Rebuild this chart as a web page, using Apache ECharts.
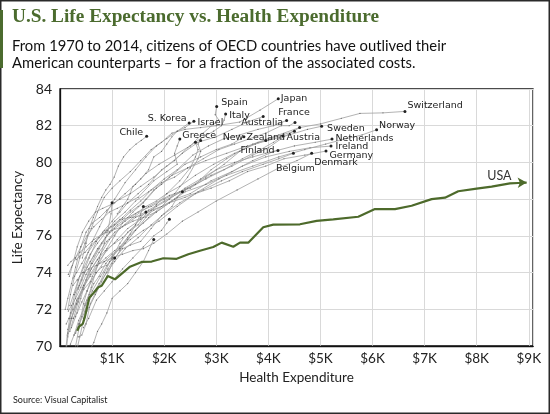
<!DOCTYPE html>
<html><head><meta charset="utf-8">
<script src="https://cdn.jsdelivr.net/npm/echarts@6/dist/echarts.min.js"></script>
<style>html,body{margin:0;padding:0;background:#fff}#c{width:550px;height:414px}</style>
</head><body><div id="c"></div>
<script>
// ---- data (health expenditure per capita in $, life expectancy in years) ----
const xTickValues = [1000,2000,3000,4000,5000,6000,7000,8000,9000];
const yTickValues = [70,72,74,76,78,80,82,84];

const usa = [[332,70.83],[365,71.05],[436,71.2],[480,71.6],[562,72.63],[639,72.87],[735,73.2],[800,73.28],[916,73.81],[1056,73.63],[1344,74.32],[1568,74.58],[1760,74.6],[1983,74.78],[2240,74.75],[2463,75.0],[2687,75.19],[2942,75.39],[3104,75.63],[3326,75.41],[3455,75.63],[3614,75.63],[3902,76.47],[4094,76.61],[4606,76.63],[4927,76.82],[5246,76.9],[5726,77.04],[6046,77.46],[6430,77.46],[6750,77.64],[7134,78.0],[7390,78.08],[7645,78.43],[7998,78.57],[8286,78.68],[8637,78.86],[8797,78.88],[8958,78.9]];

const chile = [[430,74.8],[500,75.6],[560,76.4],[640,77.0],[720,77.6],[800,78.1],[880,78.5],[960,78.8],[1040,79.2],[1120,79.8],[1220,80.3],[1340,80.7],[1460,81.0],[1560,81.2],[1664,81.42]];
const korea = [[60,68.0],[100,69.5],[140,70.6],[200,71.8],[280,72.8],[380,73.8],[500,74.8],[620,75.7],[760,76.5],[900,77.3],[1050,78.0],[1250,78.9],[1450,79.6],[1650,80.3],[1850,80.9],[2050,81.3],[2250,81.7],[2480,82.15]];
const israel = [[1100,77.2],[1200,77.6],[1300,78.0],[1400,78.7],[1550,79.1],[1700,79.6],[1800,80.3],[1950,80.6],[2050,81.0],[2150,81.4],[2250,81.7],[2400,81.9],[2570,82.25]];
const greece = [[160,73.9],[220,74.3],[300,74.8],[400,75.4],[520,76.0],[650,76.5],[800,76.9],[950,77.3],[1100,77.5],[1300,77.8],[1500,78.1],[1800,79.0],[2050,79.5],[2250,79.9],[2200,80.5],[2250,80.9],[2300,81.27]];
const spain = [[100,72.0],[150,72.6],[220,73.4],[300,74.3],[400,75.4],[500,76.2],[620,76.7],[760,77.0],[900,77.4],[1050,77.8],[1250,78.3],[1450,78.8],[1650,79.4],[1900,79.9],[2200,80.4],[2500,80.9],[2750,81.6],[2950,82.1],[3050,82.3],[2980,82.6],[3008,83.05]];
const italy = [[190,71.5],[260,72.3],[350,73.2],[450,74.0],[560,74.8],[700,75.7],[850,76.3],[1000,76.8],[1150,77.3],[1300,77.8],[1500,78.3],[1700,78.8],[1950,79.6],[2200,80.1],[2450,80.8],[2700,81.3],[2950,81.7],[3100,82.0],[3150,82.3],[3180,82.64]];
const japan = [[150,72.0],[200,72.8],[280,73.8],[380,74.8],[480,75.6],[600,76.4],[720,77.3],[850,78.1],[1000,78.6],[1150,79.0],[1350,79.5],[1550,80.1],[1750,80.7],[1950,81.1],[2150,81.6],[2400,81.8],[2700,81.9],[3000,82.0],[3450,82.2],[3840,82.85],[4190,83.47]];
const france = [[190,72.2],[260,72.8],[350,73.6],[460,74.3],[580,75.0],[720,75.6],[880,76.2],[1050,76.8],[1250,77.3],[1450,77.9],[1700,78.4],[1950,78.9],[2200,79.2],[2450,79.7],[2750,80.2],[3050,80.7],[3350,81.0],[3650,81.3],[3950,81.6],[4250,82.0],[4400,82.0],[4511,82.18]];
const australia = [[220,71.0],[300,71.6],[400,72.6],[500,73.6],[600,74.5],[750,75.3],[900,76.0],[1050,76.6],[1200,77.0],[1350,77.4],[1550,77.9],[1750,78.5],[2000,79.1],[2250,79.6],[2550,80.4],[2850,80.9],[3150,81.3],[3450,81.5],[3800,81.8],[4100,82.0],[4351,82.29]];
const newZealand = [[250,71.5],[330,71.8],[420,72.4],[520,73.0],[620,73.8],[750,74.5],[900,75.3],[1050,76.0],[1200,76.7],[1400,77.3],[1600,77.8],[1850,78.6],[2100,79.2],[2400,79.9],[2700,80.3],[3000,80.7],[3300,81.0],[3530,81.4]];
const finland = [[190,70.8],[260,71.5],[350,72.4],[460,73.3],[580,74.1],[720,74.7],[870,75.2],[1050,75.6],[1200,75.9],[1350,76.3],[1500,76.6],[1650,77.2],[1850,77.6],[2100,78.0],[2400,78.6],[2700,79.1],[3000,79.6],[3350,80.0],[3700,80.3],[3950,80.5],[4184,80.65]];
const austria = [[200,70.1],[270,70.6],[360,71.4],[480,72.2],[620,73.0],[780,73.8],[950,74.6],[1150,75.4],[1350,76.1],[1600,76.7],[1850,77.3],[2150,77.9],[2450,78.6],[2800,79.1],[3150,79.6],[3500,80.2],[3850,80.7],[4100,81.1],[4280,81.44]];
const sweden = [[310,74.7],[380,74.9],[480,75.1],[600,75.5],[750,75.9],[900,76.3],[1050,76.6],[1200,76.9],[1350,77.3],[1500,77.6],[1650,78.0],[1800,78.5],[1950,78.8],[2150,79.3],[2450,79.7],[2800,80.1],[3200,80.5],[3600,80.9],[4000,81.2],[4400,81.5],[4750,81.8],[5022,81.97]];
const netherlands = [[250,73.7],[320,74.0],[420,74.5],[540,75.1],[680,75.7],[820,76.2],[980,76.5],[1150,76.9],[1350,77.0],[1550,77.1],[1750,77.4],[1950,77.6],[2200,78.0],[2500,78.3],[2900,79.0],[3300,79.5],[3700,80.1],[4100,80.6],[4500,80.9],[4900,81.1],[5221,81.27]];
const ireland = [[120,71.2],[170,71.5],[250,72.0],[350,72.6],[460,73.1],[580,73.5],[700,74.0],[850,74.6],[1000,75.0],[1150,75.3],[1350,75.8],[1600,76.3],[1900,76.8],[2250,77.6],[2650,78.4],[3050,79.1],[3500,79.8],[3950,80.3],[4400,80.6],[4800,80.8],[5202,80.89]];
const germany = [[270,70.6],[370,71.2],[480,71.9],[600,72.7],[750,73.4],[900,74.0],[1050,74.6],[1250,75.3],[1500,75.9],[1750,76.6],[2000,77.2],[2300,77.8],[2600,78.3],[2900,78.6],[3250,79.0],[3600,79.5],[3950,79.8],[4300,80.2],[4700,80.4],[5106,80.62]];
const denmark = [[250,73.3],[330,73.6],[430,74.0],[550,74.2],[700,74.4],[850,74.6],[1000,74.8],[1200,75.0],[1400,75.2],[1600,75.3],[1800,75.6],[2050,76.1],[2350,76.8],[2650,77.3],[3000,77.9],[3400,78.5],[3800,79.1],[4200,79.7],[4550,80.1],[4831,80.5]];
const belgium = [[150,70.9],[220,71.5],[320,72.3],[440,73.1],[580,73.9],[740,74.6],[900,75.2],[1100,75.8],[1300,76.4],[1550,76.9],[1800,77.4],[2100,77.8],[2400,78.1],[2750,78.5],[3100,79.0],[3500,79.5],[3900,79.9],[4200,80.2],[4480,80.5]];
const switzerland = [[350,73.1],[420,73.6],[520,74.3],[650,74.9],[800,75.6],[950,76.2],[1100,76.6],[1300,77.0],[1500,77.3],[1750,77.6],[2000,78.0],[2300,78.4],[2600,78.8],[2900,79.6],[3200,80.2],[3500,80.7],[3800,81.1],[4200,81.5],[4600,81.9],[5000,82.1],[5400,82.4],[5758,82.67],[6200,82.7],[6622,82.78]];
const norway = [[150,74.4],[210,74.6],[290,74.8],[380,75.1],[500,75.4],[650,75.8],[820,76.1],[1000,76.3],[1200,76.5],[1400,76.8],[1600,77.0],[1850,77.3],[2100,77.8],[2400,78.4],[2800,78.8],[3200,79.3],[3700,79.8],[4200,80.3],[4700,80.7],[5100,81.0],[5500,81.3],[5800,81.5],[6078,81.78]];
const canada = [[290,72.9],[370,73.3],[470,74.0],[580,74.6],[720,75.3],[870,75.9],[1050,76.4],[1250,76.8],[1450,77.2],[1650,77.6],[1850,77.9],[2050,78.3],[2300,78.7],[2600,79.3],[2950,79.9],[3350,80.5],[3750,81.0],[4150,81.4],[4500,81.7]];
const uk = [[160,71.9],[220,72.2],[300,72.6],[400,73.2],[500,73.9],[620,74.5],[750,75.1],[900,75.7],[1050,76.2],[1250,76.6],[1450,77.0],[1700,77.4],[2000,77.9],[2400,78.5],[2800,79.2],[3150,79.9],[3450,80.6],[3700,81.0],[3950,81.2]];
const iceland = [[180,73.8],[240,74.4],[330,75.4],[430,76.2],[550,76.8],[680,77.3],[820,77.5],[980,77.7],[1150,78.0],[1350,78.3],[1550,78.7],[1800,79.2],[2050,79.8],[2350,80.5],[2650,81.1],[3000,81.4],[3300,81.8],[3600,82.2],[3900,82.5]];
const portugal = [[60,68.0],[100,69.3],[150,70.5],[220,71.5],[320,72.5],[440,73.2],[580,73.8],[720,74.4],[880,74.8],[1050,75.2],[1250,75.6],[1450,76.3],[1700,77.0],[1950,77.6],[2200,78.3],[2450,79.2],[2650,80.2],[2700,80.6],[2650,81.0],[2700,81.2]];
const slovenia = [[900,73.8],[1000,74.5],[1150,75.2],[1300,75.8],[1450,76.3],[1650,77.0],[1850,77.7],[2050,78.3],[2300,79.0],[2500,79.7],[2600,80.3],[2650,80.7],[2600,81.1]];
const czech = [[450,71.5],[560,72.1],[680,72.8],[800,73.5],[920,74.2],[1050,74.8],[1200,75.3],[1350,75.5],[1550,75.7],[1750,76.4],[1950,77.1],[2150,77.6],[2250,78.1],[2350,78.4]];
const hungary = [[500,69.4],[580,69.8],[650,70.2],[720,70.8],[800,71.2],[900,71.8],[1000,72.6],[1150,73.0],[1300,73.4],[1450,74.0],[1600,74.6],[1700,75.2],[1800,75.8]];
const poland = [[300,70.7],[360,71.2],[420,71.6],[480,72.3],[560,72.8],[650,73.4],[750,73.8],[880,74.5],[1000,74.9],[1150,75.3],[1300,75.9],[1450,76.6],[1550,77.2],[1600,77.6]];
const slovakia = [[450,71.0],[550,71.5],[700,72.5],[850,73.0],[1000,73.5],[1200,74.2],[1400,74.8],[1600,75.4],[1800,76.0],[1950,76.3],[2050,76.7],[2100,76.9]];
const estonia = [[350,70.5],[420,70.6],[500,71.2],[580,72.3],[700,73.0],[850,74.0],[1000,74.8],[1150,75.6],[1300,76.2],[1450,76.6],[1550,77.0],[1650,77.3]];
const turkey = [[300,69.5],[380,70.5],[450,71.4],[520,72.5],[600,73.2],[680,74.0],[760,74.8],[850,75.6],[920,76.3],[980,77.2],[1000,77.8]];
const mexico = [[300,70.0],[380,71.2],[450,72.3],[520,73.0],[600,73.5],[700,74.0],[800,74.3],[900,74.4],[1000,74.7],[1050,74.8]];
const luxembourg = [[150,70.7],[220,71.5],[320,72.3],[450,73.3],[600,74.2],[780,75.0],[950,75.8],[1150,76.4],[1400,77.0],[1700,77.6],[2100,78.2],[2500,78.6],[2900,79.3],[3300,79.8],[3700,80.4],[4000,80.8],[4300,81.4],[4600,81.9]];

const countryNames = ['Chile','S. Korea','Israel','Greece','Spain','Italy','Japan','France','Australia','New Zealand','Finland','Austria','Sweden','Netherlands','Ireland','Germany','Denmark','Belgium','Switzerland','Norway','','','','','','','','','','','','',''];
const countryData = [chile,korea,israel,greece,spain,italy,japan,france,australia,newZealand,finland,austria,sweden,netherlands,ireland,germany,denmark,belgium,switzerland,norway,canada,uk,iceland,portugal,slovenia,czech,hungary,poland,slovakia,estonia,turkey,mexico,luxembourg];

// ---- label placement (style only) ----
const labelPlace = {
  'Chile':{position:'left',distance:2,offset:[0,-4]},
  'S. Korea':{position:'left',distance:1,offset:[0,-4]},
  'Israel':{position:'right',distance:2,offset:[0,1]},
  'Greece':{position:'right',distance:1,offset:[0,-4]},
  'Spain':{position:'right',distance:3,offset:[0,-4]},
  'Italy':{position:'right',distance:2,offset:[0,2]},
  'Japan':{position:'right',distance:1,offset:[0,0]},
  'France':{position:'top',distance:3,offset:[-1,0]},
  'Australia':{position:'left',distance:2,offset:[0,2]},
  'New Zealand':{position:'top',distance:0,offset:[10,7]},
  'Finland':{position:'left',distance:2,offset:[0,0]},
  'Austria':{position:'right',distance:2,offset:[0,2]},
  'Sweden':{position:'right',distance:4,offset:[0,2]},
  'Netherlands':{position:'right',distance:2,offset:[0,-1]},
  'Ireland':{position:'right',distance:3,offset:[0,0]},
  'Germany':{position:'right',distance:2,offset:[0,4]},
  'Denmark':{position:'right',distance:1,offset:[0,9]},
  'Belgium':{position:'bottom',distance:9,offset:[2,0]},
  'Switzerland':{position:'right',distance:1,offset:[0,-6]},
  'Norway':{position:'right',distance:1,offset:[0,-4]}
};

const FONT = 'Lato, "Open Sans", sans-serif';
const series = [];
countryData.forEach((arr, i) => {
  const name = countryNames[i];
  const data = arr.map((p, j) => {
    if (j < arr.length - 1) return p;
    const item = {value: p, symbol: 'circle', symbolSize: 3, itemStyle: {color: '#222'}};
    if (name) {
      const lp = labelPlace[name];
      item.label = {show: true, formatter: name, position: lp.position, distance: lp.distance, offset: lp.offset,
        fontSize: 9.5, color: '#222', fontFamily: '"DejaVu Sans", sans-serif'};
    }
    return item;
  });
  series.push({type: 'line', name: name || ('c' + i), data, symbol: 'circle', symbolSize: 1.2,
    itemStyle: {color: '#666'}, lineStyle: {color: '#a0a0a0', width: 0.8}, silent: true, z: 2, animation: false,
    emphasis: {disabled: true}});
});
series.push({type: 'line', name: 'USA', z: 5, animation: false, silent: true,
  data: usa.map((p, j) => j < usa.length - 1 ? p : {value: p, symbol: 'arrow', symbolSize: [8, 9], symbolRotate: -89,
    itemStyle: {color: '#4d6a2b'},
    label: {show: true, formatter: 'USA', position: 'left', distance: 5, offset: [-1, -7], fontSize: 12.5, color: '#333', fontFamily: FONT}}),
  symbol: 'none', lineStyle: {color: '#4d6a2b', width: 2.2}, itemStyle: {color: '#4d6a2b'}});

const chart = echarts.init(document.getElementById('c'), null, {renderer: 'canvas'});
chart.setOption({
  backgroundColor: '#fff',
  animation: false,
  grid: {left: 60, top: 89, width: 473, height: 257, show: true, borderColor: '#111', borderWidth: 1.3, containLabel: false},
  xAxis: {type: 'value', min: 0, max: 9080, interval: 1000,
    name: 'Health Expenditure', nameLocation: 'middle', nameGap: 24,
    nameTextStyle: {fontSize: 13.5, color: '#222', fontFamily: FONT},
    axisLine: {show: true, lineStyle: {color: '#111', width: 1.3}}, axisTick: {show: false},
    axisLabel: {fontSize: 13.5, color: '#222', fontFamily: FONT, margin: 6,
      formatter: v => xTickValues.indexOf(v) >= 0 ? '$' + (v / 1000) + 'K' : ''},
    splitLine: {show: true, lineStyle: {color: '#d9d9d9', width: 1}}},
  yAxis: {type: 'value', min: 70, max: 84, interval: 2,
    name: 'Life Expectancy', nameLocation: 'middle', nameGap: 35, nameRotate: 90,
    nameTextStyle: {fontSize: 13.5, color: '#222', fontFamily: FONT},
    axisLine: {show: true, lineStyle: {color: '#111', width: 1.3}}, axisTick: {show: false},
    axisLabel: {fontSize: 14, color: '#222', fontFamily: FONT, margin: 8,
      formatter: v => yTickValues.indexOf(v) >= 0 ? String(v) : ''},
    splitLine: {show: true, lineStyle: {color: '#d9d9d9', width: 1}}},
  graphic: [
    {type: 'rect', shape: {x: 0.75, y: 0.75, width: 548.5, height: 412.5}, style: {fill: 'none', stroke: '#2a2a2a', lineWidth: 1.5}, z: 100},
    {type: 'rect', shape: {x: 0, y: 10, width: 3, height: 58}, style: {fill: '#4b6b2e'}, z: 101},
    {type: 'text', x: 12, y: 17, style: {text: 'U.S. Life Expectancy vs. Health Expenditure', font: 'bold 19.3px "Liberation Serif", serif', fill: '#4b6b2e', verticalAlign: 'middle'}},
    {type: 'text', x: 12, y: 46, style: {text: 'From 1970 to 2014, citizens of OECD countries have outlived their', font: '14.8px ' + FONT, fill: '#111', verticalAlign: 'middle'}},
    {type: 'text', x: 12, y: 63.5, style: {text: 'American counterparts \u2013 for a fraction of the associated costs.', font: '14.8px ' + FONT, fill: '#111', verticalAlign: 'middle'}},
    {type: 'text', x: 13, y: 400, style: {text: 'Source: Visual Capitalist', font: '9px ' + FONT, fill: '#222', verticalAlign: 'middle'}}
  ],
  series
});
</script></body></html>
